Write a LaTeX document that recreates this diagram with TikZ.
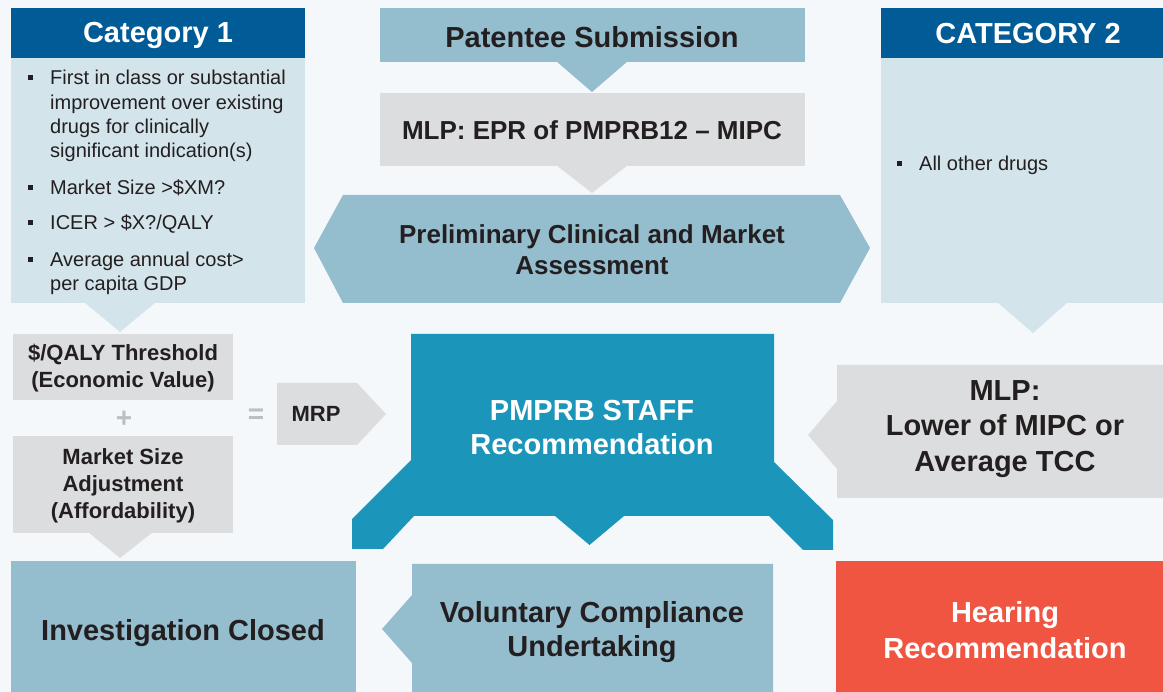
\documentclass[tikz,border=0pt]{standalone}
\usepackage{fontspec}
\setmainfont{Liberation Sans}
\definecolor{hdr}{HTML}{005B96}
\definecolor{lbody}{HTML}{D3E4EB}
\definecolor{mblue}{HTML}{94BDCE}
\definecolor{gbox}{HTML}{DCDDDF}
\definecolor{tealc}{HTML}{1B95BA}
\definecolor{redc}{HTML}{EF5541}
\definecolor{ink}{HTML}{231F20}
\definecolor{bgc}{HTML}{F4F8FB}
\definecolor{plusc}{HTML}{BDBEC0}
\begin{document}
\begin{tikzpicture}[x=1pt,y=-1pt,
  big/.style={text=ink, align=center, inner sep=0pt, font=\bfseries\fontsize{29}{34}\selectfont},
  mid/.style={text=ink, align=center, inner sep=0pt, font=\bfseries\fontsize{26}{31}\selectfont},
  small/.style={text=ink, align=center, inner sep=0pt, font=\bfseries\fontsize{22}{27}\selectfont},
  bl/.style={text=ink, anchor=base west, inner sep=0pt, font=\fontsize{20}{24}\selectfont},
  sym/.style={text=plusc, inner sep=0pt, font=\bfseries\fontsize{28}{28}\selectfont}
]
\useasboundingbox (0,0) rectangle (1163,692);
\fill[bgc] (0,0) rectangle (1163,692);

% Category 1
\fill[hdr] (11,8) rectangle (305,58);
\fill[lbody] (11,58) rectangle (305,303);
\fill[lbody] (84,302) -- (156,302) -- (120,332) -- cycle;
\node[big, text=white] (cat1) at (158,35) {Category 1};
\foreach \b in {85,195,230,267} \fill[ink] (28,\b-9.5) rectangle ++(5,5);
\node[bl] (c1a) at (50,85) {First in class or substantial};
\node[bl] (c1b) at (50,110) {improvement over existing};
\node[bl] (c1c) at (50,134) {drugs for clinically};
\node[bl] (c1d) at (50,158) {significant indication(s)};
\node[bl] (c1e) at (50,195) {Market Size >\$XM?};
\node[bl] (c1f) at (50,230) {ICER > \$X?/QALY};
\node[bl] (c1g) at (50,267) {Average annual cost>};
\node[bl] (c1h) at (50,291) {per capita GDP};

% Top centre column
\fill[mblue] (380,8) rectangle (805,62);
\node[big] (pat) at (592,37) {Patentee Submission};
\fill[mblue] (556,61) -- (628,61) -- (592,92) -- cycle;
\fill[gbox] (380,93) rectangle (805,166);
\node[mid] (epr) at (592,130) {MLP: EPR of PMPRB12 \textendash\ MIPC};
\fill[gbox] (556,165) -- (628,165) -- (592,193) -- cycle;
\fill[mblue] (314,248) -- (343,195) -- (840,195) -- (870,248) -- (840,303) -- (343,303) -- cycle;
\node[mid] (pre) at (592,250) {Preliminary Clinical and Market\\Assessment};

% Category 2
\fill[hdr] (881,8) rectangle (1163,58);
\fill[lbody] (881,58) rectangle (1163,303);
\fill[lbody] (997,302) -- (1068,302) -- (1033,333) -- cycle;
\node[big, text=white] (cat2) at (1028,34) {CATEGORY 2};
\fill[ink] (897,161.5) rectangle ++(5,5);
\node[bl] (c2a) at (919,171) {All other drugs};

% Left middle
\fill[gbox] (13,334) rectangle (233,400);
\node[small] (qaly) at (123,368) {\$/QALY Threshold\\(Economic Value)};
\node[sym] (plus) at (124,419) {+};
\fill[gbox] (13,436) rectangle (233,533);
\node[small] (msa) at (123,486) {Market Size\\Adjustment\\(Affordability)};
\fill[gbox] (88,532) -- (153,532) -- (120,558) -- cycle;
\node[sym] (eq) at (256,416) {=};
\fill[gbox] (277,383) -- (357,383) -- (386,414) -- (357,445) -- (277,445) -- cycle;
\node[small] (mrp) at (316,414) {MRP};

% PMPRB staff
\fill[tealc] (411,334) -- (774,334) -- (774,462) -- (833,520) -- (833,550) -- (803,550)
  -- (769,516) -- (624,516) -- (589.5,545) -- (555,516) -- (414,516) -- (383,549)
  -- (352,549) -- (352,519) -- (411,460) -- cycle;
\node[big, text=white] (staff) at (592,428) {PMPRB STAFF\\Recommendation};

% Right MLP
\fill[gbox] (837,365) -- (1163,365) -- (1163,498) -- (837,498) -- (837,469) -- (808,435) -- (837,401) -- cycle;
\node[big, font=\bfseries\fontsize{29}{35.5}\selectfont] (mlp) at (1005,429) {MLP:\\Lower of MIPC or\\Average TCC};

% Bottom row
\fill[mblue] (11,561) rectangle (356,692);
\node[big] (inv) at (183,633) {Investigation Closed};
\fill[mblue] (412,564) -- (773,564) -- (773,692) -- (412,692) -- (412,663) -- (382,629) -- (412,595) -- cycle;
\node[big] (vol) at (592,632) {Voluntary Compliance\\Undertaking};
\fill[redc] (836,561) rectangle (1163,692);
\node[big, text=white, font=\bfseries\fontsize{29}{36}\selectfont] (hear) at (1005,630) {Hearing\\Recommendation};
\end{tikzpicture}
\end{document}
